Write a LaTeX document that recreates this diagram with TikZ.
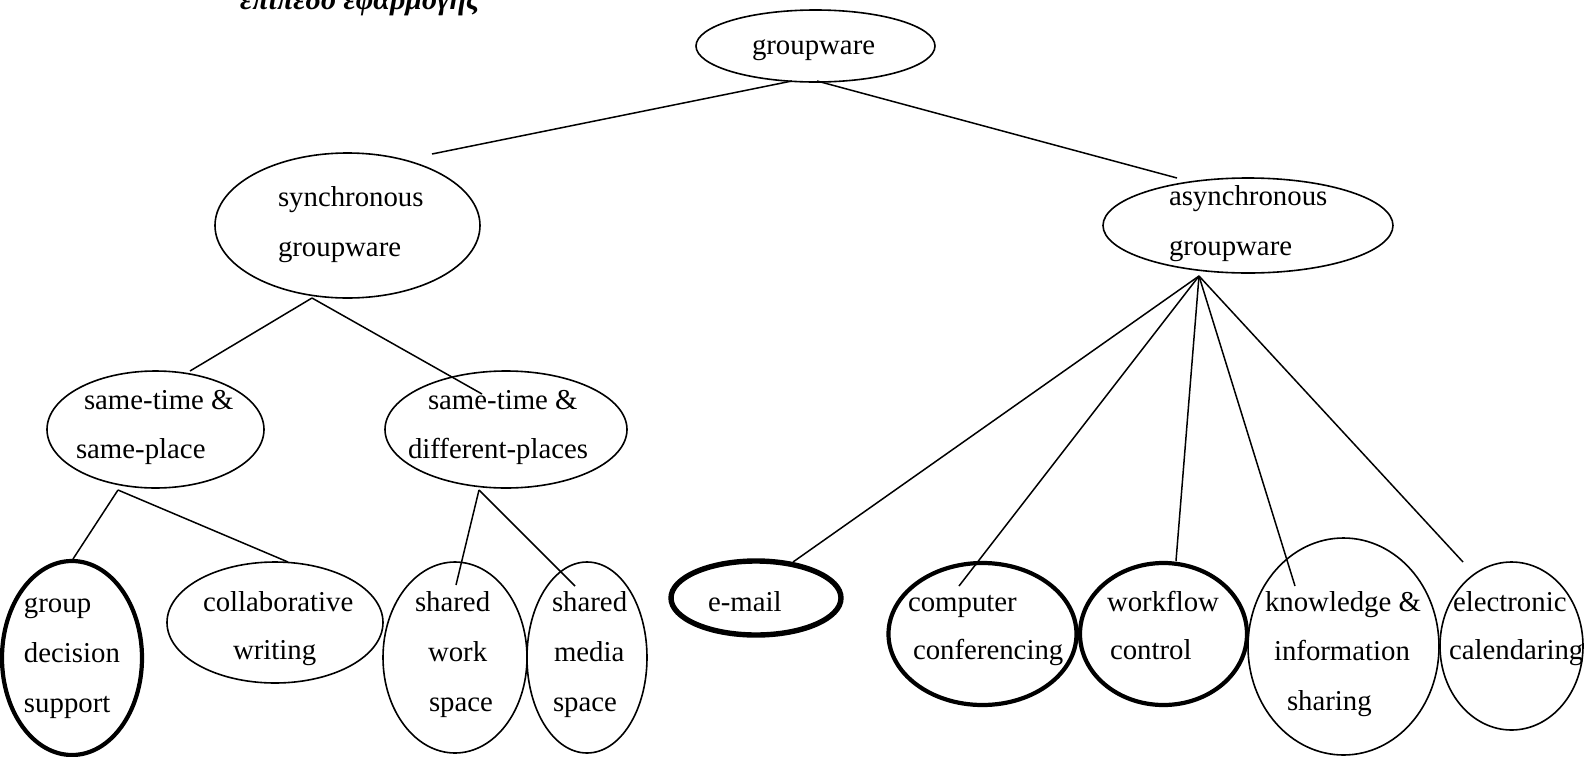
\documentclass[tikz,border=0pt]{standalone}
\usepackage{fontspec}
\setmainfont{Liberation Serif}
\usetikzlibrary{shapes.geometric}
\begin{document}
\begin{tikzpicture}[x=0.5pt,y=-0.5pt,
  ell/.style={draw, ellipse, line width=0.8pt, inner sep=0pt, outer sep=0pt},
  ellB/.style={ell, line width=2.1pt},
  ellE/.style={ell, line width=2.7pt},
  lbl/.style={font=\fontsize{14.4pt}{25pt}\selectfont, inner sep=0pt, outer sep=0pt, anchor=base west},
  ttl/.style={lbl, font=\fontsize{15pt}{25pt}\selectfont\bfseries\itshape},
  con/.style={line width=0.75pt}]
\useasboundingbox (0,0) rectangle (1587,756);
% title (cut at top, as in the reference)
\node[ttl] (title) at (240,9) {επίπεδο εφαρμογής};
% ellipses
\node[ell, minimum width=119.5pt, minimum height=36pt] (top) at (815.5,46) {};
\node[ell, minimum width=132.5pt, minimum height=72.5pt] (sync) at (347.5,225.5) {};
\node[ell, minimum width=145pt, minimum height=47.5pt] (async) at (1248,225.5) {};
\node[ell, minimum width=108.5pt, minimum height=58.5pt] (ssp) at (155.5,429.5) {};
\node[ell, minimum width=121pt, minimum height=58.5pt] (sdp) at (506,429.5) {};
\node[ellB, minimum width=70pt, minimum height=97pt] (gds) at (72,658) {};
\node[ell, minimum width=108pt, minimum height=60.5pt] (cw) at (275,622.5) {};
\node[ell, minimum width=72pt, minimum height=95.5pt] (sws) at (455,657.5) {};
\node[ell, minimum width=60pt, minimum height=95.5pt] (sms) at (587,657.5) {};
\node[ellE, minimum width=85pt, minimum height=37pt] (em) at (756,598) {};
\node[ellB, minimum width=94pt, minimum height=71pt] (cc) at (982.5,634) {};
\node[ellB, minimum width=83.5pt, minimum height=71pt] (wc) at (1163.5,634) {};
\node[ell, minimum width=95.5pt, minimum height=108.5pt] (kis) at (1343.5,646.5) {};
\node[ell, minimum width=71.5pt, minimum height=84pt] (ec) at (1511.5,646) {};
% labels
\node[lbl] (tTop) at (752,54) {groupware};
\node[lbl] (tS1) at (278,206) {synchronous};
\node[lbl] (tS2) at (278,256) {groupware};
\node[lbl] (tA1) at (1169,205) {asynchronous};
\node[lbl] (tA2) at (1169,255) {groupware};
\node[lbl] (tP1) at (84,409) {same-time \&};
\node[lbl] (tP2) at (76,458) {same-place};
\node[lbl] (tD1) at (428,409) {same-time \&};
\node[lbl] (tD2) at (408,458) {different-places};
\node[lbl] (tG1) at (24,612) {group};
\node[lbl] (tG2) at (24,662) {decision};
\node[lbl] (tG3) at (24,712) {support};
\node[lbl] (tC1) at (203,611) {collaborative};
\node[lbl] (tC2) at (233,659) {writing};
\node[lbl] (tW1) at (415,611) {shared};
\node[lbl] (tW2) at (428,661) {work};
\node[lbl] (tW3) at (429,711) {space};
\node[lbl] (tM1) at (552,611) {shared};
\node[lbl] (tM2) at (554,661) {media};
\node[lbl] (tM3) at (553,711) {space};
\node[lbl] (tE1) at (708,611) {e-mail};
\node[lbl] (tK1) at (908,611) {computer};
\node[lbl] (tK2) at (913,659) {conferencing};
\node[lbl] (tF1) at (1107,611) {workflow};
\node[lbl] (tF2) at (1110,659) {control};
\node[lbl] (tI1) at (1265,611) {knowledge \&};
\node[lbl] (tI2) at (1274,660) {information};
\node[lbl] (tI3) at (1287,710) {sharing};
\node[lbl] (tL1) at (1453,611) {electronic};
\node[lbl] (tL2) at (1449,659) {calendaring};
% connector ends
\coordinate (topL) at (792,81);
\coordinate (topR) at (817,81);
\coordinate (syncIn) at (432,154);
\coordinate (asyncIn) at (1177,178);
\coordinate (syncB) at (312,298);
\coordinate (sspIn) at (190,371);
\coordinate (sdpIn) at (482,394);
\coordinate (sspB) at (118,490);
\coordinate (gdsIn) at (73,559);
\coordinate (cwIn) at (288,562);
\coordinate (sdpB) at (479,490);
\coordinate (swsIn) at (456,585);
\coordinate (smsIn) at (575,586);
\coordinate (asyncB) at (1199,276);
\coordinate (emIn) at (793,562);
\coordinate (ccIn) at (959,586);
\coordinate (wcIn) at (1176,561);
\coordinate (kisIn) at (1295,586);
\coordinate (ecIn) at (1463,562);
% connectors
\draw[con] (topL) -- (syncIn);
\draw[con] (topR) -- (asyncIn);
\draw[con] (syncB) -- (sspIn);
\draw[con] (syncB) -- (sdpIn);
\draw[con] (sspB) -- (gdsIn);
\draw[con] (sspB) -- (cwIn);
\draw[con] (sdpB) -- (swsIn);
\draw[con] (sdpB) -- (smsIn);
\draw[con] (asyncB) -- (emIn);
\draw[con] (asyncB) -- (ccIn);
\draw[con] (asyncB) -- (wcIn);
\draw[con] (asyncB) -- (kisIn);
\draw[con] (asyncB) -- (ecIn);
\end{tikzpicture}
\end{document}
